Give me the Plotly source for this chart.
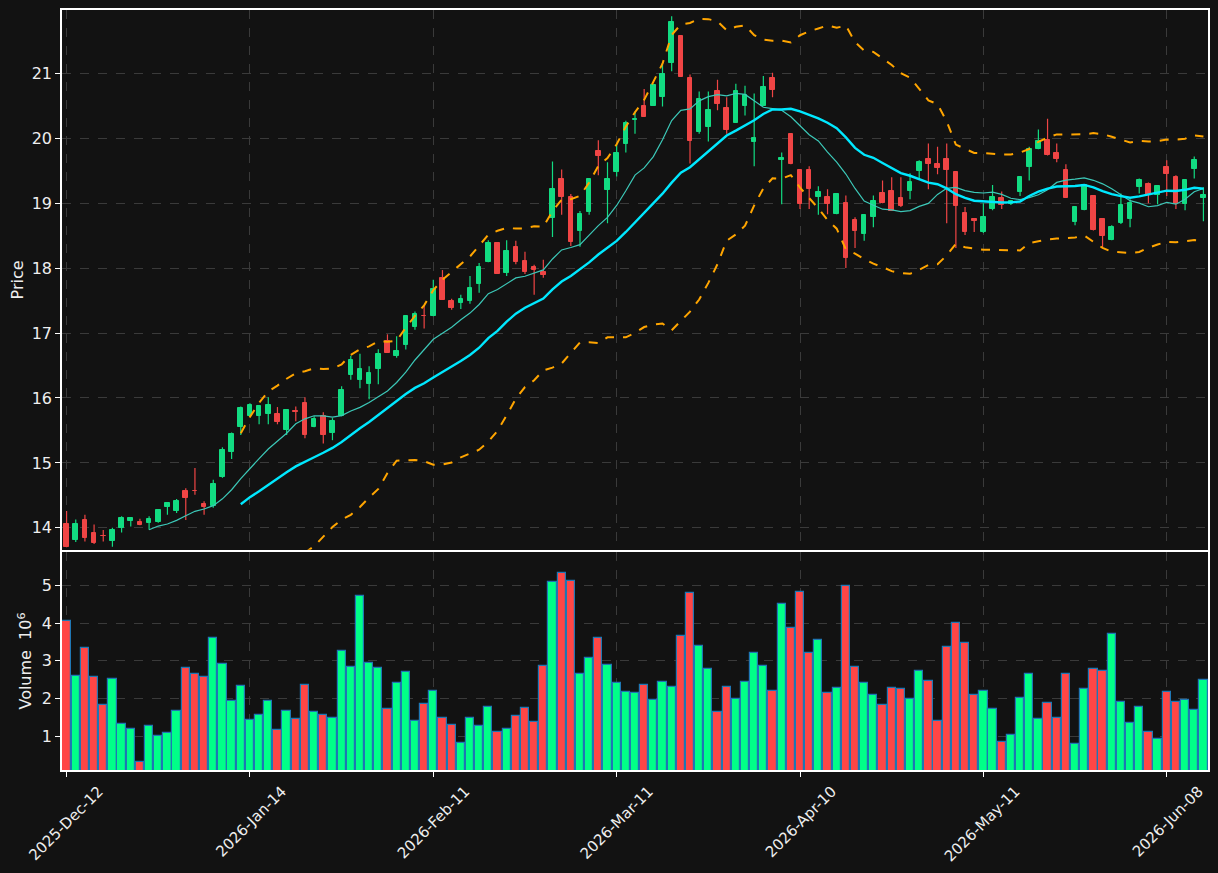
import plotly.graph_objects as go
import pandas as pd

tick_index = [0, 20, 40, 60, 80, 100, 120]
tick_labels = ["2025-Dec-12", "2026-Jan-14", "2026-Feb-11", "2026-Mar-11",
               "2026-Apr-10", "2026-May-11", "2026-Jun-08"]

opens = [14.06, 13.82, 14.12, 13.92, 13.875, 13.805, 14.005, 14.10, 14.09, 14.08,
         14.09, 14.32, 14.26, 14.57, 14.565, 14.37, 14.34, 14.78, 15.17, 15.55,
         15.73, 15.73, 15.76, 15.75, 15.50, 15.80, 15.93, 15.56, 15.73, 15.46,
         15.73, 16.35, 16.27, 16.21, 16.45, 16.87, 16.64, 16.81, 17.10, 17.27,
         17.27, 17.85, 17.50, 17.466, 17.50, 17.76, 18.10, 18.39, 17.93, 18.33,
         18.11, 18.02, 17.94, 18.77, 19.37, 19.09, 18.57, 18.86, 19.80, 19.20,
         19.475, 19.905, 20.28, 20.49, 20.50, 20.64, 21.16, 21.58, 20.93, 20.09,
         20.18, 20.73, 20.46, 20.24, 20.49, 19.94, 20.50, 20.93, 19.66, 20.06,
         19.51, 19.51, 19.09, 19.09, 18.83, 19.00, 18.74, 18.525, 18.785, 19.15,
         19.18, 19.08, 19.18, 19.49, 19.675, 19.60, 19.675, 19.475, 18.85, 18.755,
         18.555, 18.91, 19.08, 18.985, 19.17, 19.55, 19.83, 19.98, 19.78, 19.51,
         18.71, 18.89, 19.11, 18.755, 18.43, 18.69, 18.755, 19.245, 19.29, 19.12,
         19.55, 19.40, 18.985, 19.52, 19.077]
highs = [14.26, 14.13, 14.20, 14.05, 13.965, 14.00, 14.18, 14.155, 14.14, 14.18,
         14.29, 14.39, 14.445, 14.61, 14.92, 14.41, 14.74, 15.24, 15.47, 15.87,
         15.92, 15.88, 16.01, 15.86, 15.82, 15.87, 16.01, 15.72, 15.78, 15.69,
         16.18, 16.65, 16.68, 16.49, 16.75, 16.98, 16.95, 17.27, 17.33, 17.42,
         17.82, 17.97, 17.53, 17.59, 17.88, 18.08, 18.43, 18.39, 18.43, 18.42,
         18.25, 18.05, 18.13, 19.64, 19.52, 19.14, 18.88, 19.38, 19.97, 19.63,
         19.905, 20.27, 20.41, 20.76, 20.83, 21.16, 21.88, 21.58, 20.98, 20.72,
         20.72, 20.90, 20.63, 20.84, 20.81, 20.69, 20.96, 21.01, 19.78, 20.06,
         19.51, 19.57, 19.26, 19.215, 19.14, 19.12, 18.785, 18.82, 19.12, 19.35,
         19.40, 19.40, 19.46, 19.66, 19.92, 19.87, 19.92, 19.475, 18.94, 18.755,
         19.00, 19.28, 19.18, 19.05, 19.40, 19.87, 20.135, 20.30, 19.92, 19.60,
         18.94, 19.28, 19.11, 18.755, 18.66, 19.15, 19.06, 19.38, 19.32, 19.26,
         19.66, 19.43, 19.35, 19.72, 19.245]
lows = [13.70, 13.78, 13.79, 13.75, 13.79, 13.71, 13.93, 14.02, 14.04, 13.97,
        14.08, 14.20, 14.23, 14.12, 14.51, 14.20, 14.31, 14.77, 15.06, 15.43,
        15.72, 15.595, 15.595, 15.595, 15.43, 15.64, 15.38, 15.55, 15.30, 15.35,
        15.72, 16.28, 16.15, 15.98, 16.21, 16.70, 16.62, 16.745, 17.05, 17.07,
        17.26, 17.51, 17.36, 17.37, 17.45, 17.62, 18.09, 17.91, 17.88, 18.06,
        17.91, 17.59, 17.85, 18.48, 18.82, 18.34, 18.33, 18.82, 19.43, 18.69,
        19.41, 19.78, 20.07, 20.33, 20.50, 20.49, 21.03, 20.95, 19.61, 20.07,
        19.95, 20.43, 20.07, 20.24, 20.35, 19.57, 20.50, 20.63, 18.985, 19.60,
        18.91, 18.91, 18.82, 18.83, 18.83, 18.00, 18.31, 18.42, 18.63, 19.00,
        18.88, 18.94, 19.06, 19.37, 19.215, 19.445, 18.69, 18.31, 18.51, 18.555,
        18.54, 18.89, 18.91, 18.97, 19.11, 19.35, 19.83, 19.736, 19.63, 19.08,
        18.66, 18.89, 18.58, 18.325, 18.43, 18.68, 18.63, 19.15, 19.00, 18.985,
        19.11, 18.91, 18.89, 19.38, 18.72]
closes = [13.71, 14.06, 13.85, 13.76, 13.87, 13.97, 14.15, 14.15, 14.045, 14.14,
          14.28, 14.38, 14.41, 14.46, 14.56, 14.32, 14.675, 15.20, 15.44, 15.84,
          15.89, 15.87, 15.89, 15.63, 15.81, 15.79, 15.43, 15.67, 15.43, 15.64,
          16.12, 16.58, 16.45, 16.39, 16.67, 16.70, 16.73, 17.27, 17.30, 17.265,
          17.68, 17.51, 17.39, 17.53, 17.70, 18.02, 18.39, 17.91, 18.26, 18.10,
          17.94, 17.97, 17.90, 19.22, 19.09, 18.40, 18.83, 19.37, 19.72, 19.37,
          19.78, 20.24, 20.30, 20.33, 20.825, 20.99, 21.79, 20.95, 19.95, 20.60,
          20.44, 20.53, 20.12, 20.72, 20.66, 20.01, 20.79, 20.75, 19.69, 19.60,
          18.985, 19.215, 19.17, 18.985, 19.14, 18.16, 18.57, 18.82, 19.03, 19.00,
          18.88, 18.95, 19.32, 19.63, 19.61, 19.54, 19.51, 18.95, 18.555, 18.72,
          18.785, 19.09, 18.97, 19.03, 19.40, 19.84, 19.95, 19.736, 19.675, 19.08,
          18.94, 19.28, 18.59, 18.49, 18.63, 18.97, 19.00, 19.35, 19.12, 19.26,
          19.445, 18.985, 19.35, 19.66, 19.12]
volumes = [4.05, 2.59, 3.33, 2.56, 1.82, 2.51, 1.31, 1.18, 0.30, 1.26,
           0.99, 1.07, 1.66, 2.80, 2.64, 2.56, 3.62, 2.91, 1.92, 2.32,
           1.42, 1.55, 1.92, 1.15, 1.66, 1.44, 2.37, 1.63, 1.55, 1.47,
           3.25, 2.83, 4.72, 2.93, 2.80, 1.71, 2.40, 2.69, 1.39, 1.84,
           2.19, 1.47, 1.28, 0.81, 1.47, 1.26, 1.76, 1.12, 1.18, 1.52,
           1.74, 1.36, 2.85, 5.09, 5.33, 5.11, 2.64, 3.07, 3.60, 2.88,
           2.40, 2.16, 2.14, 2.37, 1.95, 2.43, 2.30, 3.65, 4.80, 3.39,
           2.77, 1.63, 2.30, 1.98, 2.43, 3.20, 2.85, 2.19, 4.50, 3.86,
           4.82, 3.20, 3.55, 2.14, 2.27, 4.99, 2.83, 2.40, 2.08, 1.82,
           2.27, 2.24, 1.98, 2.72, 2.45, 1.39, 3.36, 4.00, 3.47, 2.08,
           2.19, 1.71, 0.83, 1.02, 2.00, 2.64, 1.44, 1.87, 1.47, 2.64,
           0.78, 2.24, 2.77, 2.72, 3.70, 1.90, 1.34, 1.76, 1.10, 0.91,
           2.16, 1.90, 1.95, 1.68, 2.48]

UP = "#12dc82"
DOWN = "#f04545"
VUP = "#00ff88"
VDOWN = "#ff4646"
BG = "#121212"
GRID = "#3a3a3a"
TXT = "#eeeeee"

x = list(range(len(closes)))
cs = pd.Series(closes)
sma10 = cs.rolling(10).mean()
sma20 = cs.rolling(20).mean()
sd20 = cs.rolling(20).std(ddof=0)
upper = sma20 + 2 * sd20
lower = sma20 - 2 * sd20

up = [i for i in x if closes[i] >= opens[i]]
dn = [i for i in x if closes[i] < opens[i]]

fig = go.Figure()


def wick_trace(idx, color):
    wx, wy = [], []
    for i in idx:
        wx += [i, i, None]
        wy += [lows[i], highs[i], None]
    return go.Scatter(x=wx, y=wy, mode="lines", line=dict(color=color, width=1.2),
                      xaxis="x", yaxis="y", hoverinfo="skip")


def body_trace(idx, color):
    return go.Bar(x=idx, y=[abs(closes[i] - opens[i]) for i in idx],
                  base=[min(opens[i], closes[i]) for i in idx],
                  width=0.5, marker=dict(color=color, line=dict(color=color, width=1)),
                  xaxis="x", yaxis="y")


fig.add_trace(wick_trace(up, UP))
fig.add_trace(wick_trace(dn, DOWN))
fig.add_trace(body_trace(up, UP))
fig.add_trace(body_trace(dn, DOWN))

fig.add_trace(go.Scatter(x=x, y=sma10, mode="lines", line=dict(color="#3cc8b8", width=1.2),
                         xaxis="x", yaxis="y"))
fig.add_trace(go.Scatter(x=x, y=sma20, mode="lines", line=dict(color="#00e8ff", width=2.4),
                         xaxis="x", yaxis="y"))
fig.add_trace(go.Scatter(x=x, y=upper, mode="lines", line=dict(color="#ffa500", width=2, dash="dash"),
                         xaxis="x", yaxis="y"))
fig.add_trace(go.Scatter(x=x, y=lower, mode="lines", line=dict(color="#ffa500", width=2, dash="dash"),
                         xaxis="x", yaxis="y"))

vcolors = [VUP if closes[i] >= opens[i] else VDOWN for i in x]
fig.add_trace(go.Bar(x=x, y=volumes, width=0.9,
                     marker=dict(color=vcolors, line=dict(color="#1f77b4", width=1.2)),
                     xaxis="x2", yaxis="y2"))

split = 218 / 760
axis_common = dict(showline=True, mirror=True, linecolor="#ffffff", linewidth=1.5,
                   showgrid=True, gridcolor=GRID, griddash="dash", gridwidth=1,
                   ticks="outside", ticklen=5, tickcolor="#ffffff", zeroline=False,
                   automargin=False)

fig.update_layout(
    width=1218, height=873,
    margin=dict(l=62, r=10, t=10, b=103),
    paper_bgcolor=BG, plot_bgcolor=BG,
    font=dict(family="DejaVu Sans", size=16, color=TXT),
    showlegend=False, barmode="overlay", bargap=0,
    xaxis=dict(domain=[0, 1], anchor="y", range=[-0.5, 124.5], tickvals=tick_index,
               showticklabels=False, **axis_common),
    yaxis=dict(domain=[split + 0.003, 1], anchor="x", range=[13.663, 21.975],
               tickvals=[14, 15, 16, 17, 18, 19, 20, 21], tickfont=dict(size=16, color=TXT),
               title=dict(text="Price", standoff=4, font=dict(size=16)), **axis_common),
    xaxis2=dict(domain=[0, 1], anchor="y2", matches="x", range=[-0.5, 124.5],
                tickvals=tick_index, ticktext=tick_labels, tickangle=-45,
                tickfont=dict(size=15, color=TXT),
                ticklabeloverflow="allow", ticklabelshift=32, ticklabelstandoff=0,
                **axis_common),
    yaxis2=dict(domain=[0, split], anchor="x2", range=[0.096, 5.894],
                tickvals=[1, 2, 3, 4, 5], tickfont=dict(size=16, color=TXT),
                title=dict(text="Volume  10<sup>6</sup>", standoff=6, font=dict(size=16)),
                **axis_common),
)

fig.write_html("out.html")
